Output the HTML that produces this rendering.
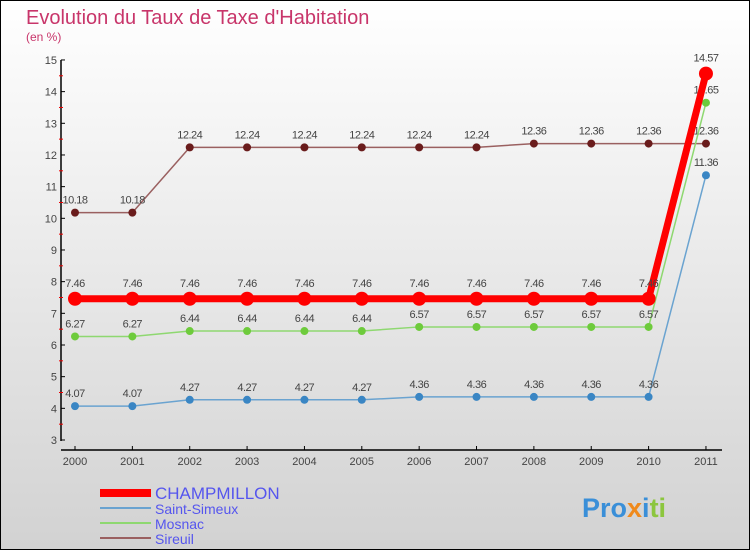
<!DOCTYPE html>
<html><head><meta charset="utf-8"><style>
body{margin:0;}
svg{display:block;font-family:"Liberation Sans",sans-serif;}
</style></head><body>
<svg width="750" height="550" viewBox="0 0 750 550">
<defs><linearGradient id="bg" x1="0" y1="0" x2="0" y2="1"><stop offset="0" stop-color="#ffffff"/><stop offset="1" stop-color="#d2d2d2"/></linearGradient></defs>
<rect x="0.5" y="0.5" width="749" height="549" fill="url(#bg)" stroke="#000"/>
<text x="26" y="24" font-size="20" fill="#c8356a">Evolution du Taux de Taxe d'Habitation</text>
<text x="26" y="41" font-size="12" fill="#c8356a">(en %)</text>
<g id="axes"></g>
<g id="series"></g>
<g id="legend"></g>
<text x="582" y="517" font-size="27" font-weight="bold" fill="#3a8fd8">Pro<tspan fill="#f08a1c">x</tspan><tspan fill="#3a8fd8">i</tspan><tspan fill="#8cc63e">ti</tspan></text>
</svg>
<script>
const years=["2000","2001","2002","2003","2004","2005","2006","2007","2008","2009","2010","2011"];
const champ=[7.46,7.46,7.46,7.46,7.46,7.46,7.46,7.46,7.46,7.46,7.46,14.57];
const simeux=[4.07,4.07,4.27,4.27,4.27,4.27,4.36,4.36,4.36,4.36,4.36,11.36];
const mosnac=[6.27,6.27,6.44,6.44,6.44,6.44,6.57,6.57,6.57,6.57,6.57,13.65];
const sireuil=[10.18,10.18,12.24,12.24,12.24,12.24,12.24,12.24,12.36,12.36,12.36,12.36];
const yTicks=[3,4,5,6,7,8,9,10,11,12,13,14,15];
const NS="http://www.w3.org/2000/svg";
const x=i=>75+i*57.36;
const y=v=>440-(v-3)*31.67;
function mk(t,a,p){const e=document.createElementNS(NS,t);for(const k in a)e.setAttribute(k,a[k]);p.appendChild(e);return e;}
const ax=document.getElementById('axes');
let e=mk('line',{x1:61,y1:60,x2:61,y2:441,stroke:'#000','stroke-width':1.5},ax);

e=mk('line',{x1:61,y1:450,x2:722,y2:450,stroke:'#000','stroke-width':1.5},ax);

yTicks.forEach(v=>{
 mk('line',{x1:61,y1:y(v),x2:65,y2:y(v),stroke:'#000'},ax);
 if(v<15)mk('line',{x1:59,y1:y(v+0.5),x2:63,y2:y(v+0.5),stroke:'#e00'},ax);
 const t=mk('text',{x:57,y:y(v)+4,'font-size':11,fill:'#444','text-anchor':'end'},ax);t.textContent=v;
 
});
years.forEach((yr,i)=>{
 mk('line',{x1:x(i),y1:446,x2:x(i),y2:450,stroke:'#000'},ax);
 const t=mk('text',{x:x(i),y:465,'font-size':11,fill:'#444','text-anchor':'middle'},ax);t.textContent=yr;
 
});
const sg=document.getElementById('series');
function series(name,data,color,dot,w,r){
 const g=mk('g',{},sg);
 
 mk('polyline',{points:data.map((v,i)=>x(i)+','+y(v)).join(' '),fill:'none',stroke:color,'stroke-width':w},g);
 data.forEach((v,i)=>{
  const c=mk('circle',{cx:x(i),cy:y(v),r:r,fill:dot},g);
  
  const t=mk('text',{x:x(i),y:y(v)-r-5,'font-size':11,fill:'#444','text-anchor':'middle','letter-spacing':'-0.5'},g);
  t.textContent=String(v);
  
 });
}
series('sireuil',sireuil,'#9a6060','#6a1c1c',1.5,4);
series('saint-simeux',simeux,'#6aa3d0','#3a86c4',1.5,4);
series('mosnac',mosnac,'#8ed870','#6ecb3c',1.5,4);
series('champmillon',champ,'#f00','#f00',7,7);
const lg=document.getElementById('legend');
[["CHAMPMILLON","#f00",8,17],["Saint-Simeux","#6aa3d0",2,14],["Mosnac","#8ed870",2,14],["Sireuil","#9a6060",2,14]].forEach((d,i)=>{
 const yy=493+i*15;
 const g=mk('g',{},lg);
 
 mk('line',{x1:100,y1:yy,x2:151,y2:yy,stroke:d[1],'stroke-width':d[2]},g);
 const t=mk('text',{x:155,y:yy+6,'font-size':d[3],fill:'#5555ee'},g);t.textContent=d[0];
});
</script>
</body></html>
